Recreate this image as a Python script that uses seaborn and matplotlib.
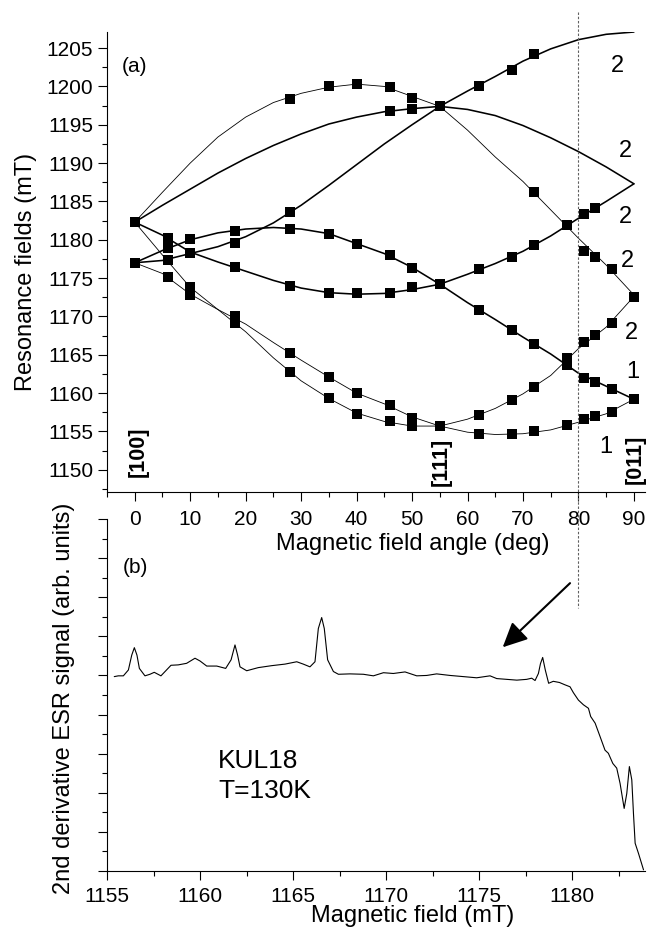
import matplotlib
matplotlib.use("Agg")
import numpy as np
import pandas as pd
import matplotlib.pyplot as plt
import matplotlib.transforms as mtransforms
from matplotlib.lines import Line2D
from matplotlib.ticker import MultipleLocator, NullFormatter
import seaborn as sns

# ---------------- data ----------------
# fitted angular-dependence curves, sampled every 5 degrees
curve_angles = [0, 5, 10, 15, 20, 25, 30, 35, 40, 45, 50, 55, 60, 65, 70, 75, 80, 85, 90]
curve_A = [1182.3, 1186.2, 1190.0, 1193.4, 1196.0, 1197.9, 1199.1, 1199.9, 1200.3, 1200.0,
           1198.7, 1197.4, 1194.3, 1190.8, 1187.6, 1183.9, 1180.2, 1176.7, 1172.8]
curve_B = [1182.3, 1184.5, 1186.6, 1188.7, 1190.6, 1192.3, 1193.8, 1195.1, 1196.0, 1196.7,
           1197.1, 1197.4, 1197.0, 1196.2, 1194.9, 1193.3, 1191.5, 1189.5, 1187.3]
curve_C = [1177.0, 1177.3, 1178.2, 1179.1, 1180.4, 1182.2, 1184.5, 1187.1, 1189.8, 1192.5,
           1195.0, 1197.4, 1199.4, 1201.3, 1203.3, 1204.9, 1206.1, 1206.8, 1207.1]
curve_D = [1182.3, 1180.6, 1178.4, 1177.1, 1175.9, 1174.7, 1173.7, 1173.1, 1172.9, 1173.0,
           1173.5, 1174.2, 1175.5, 1176.9, 1178.5, 1180.5, 1182.8, 1185.0, 1187.3]
curve_E = [1177.0, 1178.6, 1180.0, 1180.9, 1181.4, 1181.6, 1181.4, 1180.8, 1179.5, 1178.2,
           1176.4, 1174.2, 1171.8, 1169.6, 1167.3, 1165.1, 1162.6, 1160.9, 1159.2]
curve_F = [1182.3, 1178.0, 1173.8, 1170.9, 1168.0, 1164.6, 1161.6, 1159.3, 1157.4, 1156.3,
           1155.7, 1155.7, 1156.6, 1158.0, 1159.9, 1162.3, 1165.8, 1168.6, 1172.6]
curve_G = [1177.0, 1175.6, 1172.9, 1170.9, 1169.0, 1166.6, 1164.3, 1162.1, 1160.0, 1158.6,
           1156.9, 1155.7, 1154.9, 1154.6, 1154.7, 1155.2, 1156.2, 1157.3, 1159.2]
thin_curves = {"A": curve_A, "F": curve_F, "G": curve_G}
thick_curves = {"B": curve_B, "C": curve_C, "D": curve_D, "E": curve_E}

# measured resonance positions (squares)
marker_angles = ([0] * 2 + [6] * 4 + [10] * 4 + [18] * 5 + [28] * 6 + [35] * 5 + [40] * 5 +
                 [46] * 6 + [50] * 6 + [55] * 3 + [62] * 5 + [68] * 5 + [72] * 6 + [78] * 4 +
                 [81] * 5 + [83] * 5 + [86] * 4 + [90] * 2)
marker_fields = [1182.3, 1177.0,
                 1180.2, 1178.9, 1177.4, 1175.2,
                 1180.1, 1178.3, 1173.8, 1172.8,
                 1181.2, 1179.6, 1176.5, 1170.0, 1169.2,
                 1198.3, 1183.6, 1181.4, 1174.0, 1165.2, 1162.8,
                 1200.0, 1180.8, 1173.1, 1162.1, 1159.3,
                 1200.3, 1179.4, 1173.1, 1160.0, 1157.3,
                 1199.9, 1196.8, 1178.0, 1173.1, 1158.4, 1156.3,
                 1198.5, 1197.1, 1176.3, 1173.8, 1156.8, 1155.7,
                 1197.4, 1174.2, 1155.7,
                 1200.05, 1176.2, 1170.8, 1157.1, 1154.7,
                 1202.2, 1177.8, 1168.2, 1159.1, 1154.7,
                 1204.2, 1186.2, 1179.3, 1166.4, 1160.8, 1155.0,
                 1181.9, 1164.6, 1163.7, 1155.8,
                 1183.3, 1178.6, 1166.7, 1162.0, 1156.6,
                 1184.1, 1177.7, 1167.6, 1161.5, 1157.0,
                 1176.2, 1169.2, 1160.6, 1157.5,
                 1172.6, 1159.2]

# ESR spectrum (panel b)
spec_field = [1155.39, 1155.61, 1155.88, 1156.15, 1156.33, 1156.47, 1156.61, 1156.74, 1157.04, 1157.31,
              1157.54, 1157.90, 1158.12, 1158.44, 1158.83, 1159.28, 1159.73, 1160.00, 1160.36, 1160.90,
              1161.38, 1161.67, 1161.88, 1162.02, 1162.15, 1162.51, 1163.13, 1163.85, 1164.57, 1165.20,
              1165.55, 1165.91, 1166.18, 1166.36, 1166.54, 1166.68, 1166.86, 1167.17, 1167.44, 1168.06,
              1168.78, 1169.32, 1169.86, 1170.39, 1171.02, 1171.65, 1172.19, 1172.72, 1173.44, 1174.16,
              1174.87, 1175.59, 1175.95, 1176.49, 1177.03, 1177.56, 1177.83, 1178.01, 1178.19, 1178.30,
              1178.42, 1178.56, 1178.74, 1178.99, 1179.32, 1179.62, 1179.89, 1180.07, 1180.34, 1180.61,
              1180.88, 1181.00, 1181.24, 1181.51, 1181.77, 1181.95, 1182.19, 1182.40, 1182.58, 1182.80,
              1182.94, 1183.08, 1183.21, 1183.30, 1183.39, 1183.57, 1183.84]
spec_signal = [4.97, 4.99, 4.99, 5.14, 5.52, 5.71, 5.52, 5.18, 4.99, 5.03,
               5.08, 4.99, 5.10, 5.26, 5.27, 5.31, 5.44, 5.37, 5.24, 5.24,
               5.18, 5.40, 5.78, 5.52, 5.22, 5.12, 5.20, 5.25, 5.29, 5.35,
               5.29, 5.22, 5.35, 6.20, 6.48, 6.20, 5.40, 5.10, 5.03, 5.04,
               5.03, 4.99, 5.07, 5.05, 5.09, 4.99, 5.00, 5.04, 5.00, 4.97,
               4.94, 4.99, 4.92, 4.90, 4.88, 4.90, 4.93, 4.87, 5.05, 5.30,
               5.46, 5.14, 4.80, 4.85, 4.82, 4.76, 4.71, 4.56, 4.37, 4.25,
               4.16, 3.95, 3.78, 3.43, 3.09, 3.01, 2.75, 2.63, 2.24, 1.60,
               1.98, 2.67, 2.33, 1.47, 0.71, 0.45, 0.03]

# annotations
marked_angle = 80
branch_labels = [("2", 87.1, 1202.7), ("2", 88.5, 1191.6), ("2", 88.5, 1183.0), ("2", 88.8, 1177.2),
                 ("2", 89.5, 1167.9), ("1", 89.8, 1162.7), ("1", 85.0, 1153.0)]
direction_labels = [("[100]", 0.6, 1152.3), ("[111]", 55.3, 1151.0), ("[011]", 90.2, 1151.3)]
sample_lines = [("KUL18", 2.63), ("T=130K", 1.87)]

# ---------------- style ----------------
sns.set_style("ticks")
plt.rcParams["font.family"] = ["Liberation Sans", "DejaVu Sans"]
for key in ["text.color", "axes.labelcolor", "xtick.color", "ytick.color", "axes.edgecolor"]:
    plt.rcParams[key] = "black"
plt.rcParams["axes.linewidth"] = 0.8
for key in ["xtick.major.width", "ytick.major.width", "xtick.minor.width", "ytick.minor.width"]:
    plt.rcParams[key] = 0.8

W, H = 649, 932
fig = plt.figure(figsize=(W / 100, H / 100), dpi=100)
ax1 = fig.add_axes([107 / W, 1 - 492 / H, 538 / W, 460 / H])
ax2 = fig.add_axes([107 / W, 1 - 871 / H, 538 / W, 352 / H])
for ax in (ax1, ax2):
    ax.set_facecolor("none")

# ---------------- panel (a) ----------------
for name, vals in thin_curves.items():
    sns.lineplot(x=curve_angles, y=vals, ax=ax1, color="black", linewidth=0.6,
                 estimator=None, sort=False, zorder=2)
for name, vals in thick_curves.items():
    sns.lineplot(x=curve_angles, y=vals, ax=ax1, color="black", linewidth=1.15,
                 estimator=None, sort=False, zorder=2)
sns.scatterplot(x=marker_angles, y=marker_fields, ax=ax1, marker="s", s=42,
                color="black", linewidth=0, zorder=3)

ax1.set_xlim(-5, 92)
ax1.set_ylim(1147.1, 1207.1)
ax1.set_xticks(range(0, 91, 10))
ax1.xaxis.set_minor_locator(MultipleLocator(5))
ax1.set_yticks(range(1150, 1206, 5))
ax1.yaxis.set_minor_locator(MultipleLocator(2.5))
ax1.tick_params(which="major", direction="out", length=6.5, labelsize=15)
ax1.tick_params(which="minor", direction="out", length=3.5)
ax1.tick_params(axis="x", which="major", pad=6.3)
sns.despine(ax=ax1)
ax1.set_xlabel("Magnetic field angle (deg)", fontsize=17)
ax1.set_ylabel("Resonance fields (mT)", fontsize=17)
ax1.xaxis.set_label_coords(0.568, -0.089)
ax1.yaxis.set_label_coords(-0.130, 0.478)

ax1.text(-2.3, 1202.65, "(a)", fontsize=15, ha="left", va="center")
for txt, xa, ya in branch_labels:
    ax1.text(xa, ya, txt, fontsize=17, ha="center", va="center")
for txt, xa, ya in direction_labels:
    ax1.text(xa, ya, txt, fontsize=15.5, fontweight="bold", rotation=90,
             ha="center", va="center", clip_on=False)

# ---------------- panel (b) ----------------
sns.lineplot(x=spec_field, y=spec_signal, ax=ax2, color="black", linewidth=0.8,
             estimator=None, sort=False)
ax2.set_xlim(1155, 1183.92)
ax2.set_ylim(0, 9)
ax2.set_xticks(range(1155, 1181, 5))
ax2.xaxis.set_minor_locator(MultipleLocator(2.5))
ax2.yaxis.set_major_locator(MultipleLocator(1))
ax2.yaxis.set_minor_locator(MultipleLocator(0.5))
ax2.yaxis.set_major_formatter(NullFormatter())
ax2.tick_params(which="major", direction="out", length=6.5, labelsize=15)
ax2.tick_params(which="minor", direction="out", length=3.5)
ax2.tick_params(axis="x", which="major", pad=4.8)
sns.despine(ax=ax2)
ax2.set_xlabel("Magnetic field (mT)", fontsize=17)
ax2.set_ylabel("2nd derivative ESR signal (arb. units)", fontsize=17)
ax2.xaxis.set_label_coords(0.568, -0.0966)
ax2.yaxis.set_label_coords(-0.0595, 0.49)

ax2.text(1155.86, 7.75, "(b)", fontsize=15, ha="left", va="center")
for txt, yb in sample_lines:
    ax2.text(1160.97, yb, txt, fontsize=19, ha="left", va="baseline")
ax2.annotate("", xy=(1176.27, 5.72), xytext=(1179.89, 7.36),
             arrowprops=dict(arrowstyle="-|>,head_length=0.75,head_width=0.36",
                             color="black", lw=1.5, mutation_scale=20, shrinkA=0, shrinkB=0))

# dashed marker line across both panels at the chosen angle
trans = mtransforms.blended_transform_factory(ax1.transData, fig.transFigure)
fig.add_artist(Line2D([marked_angle, marked_angle], [1 - 12 / H, 1 - 608 / H], transform=trans,
                      color="#606060", linewidth=0.8, linestyle=(0, (2.2, 1.6))))

fig.savefig("out.png", dpi=100)
